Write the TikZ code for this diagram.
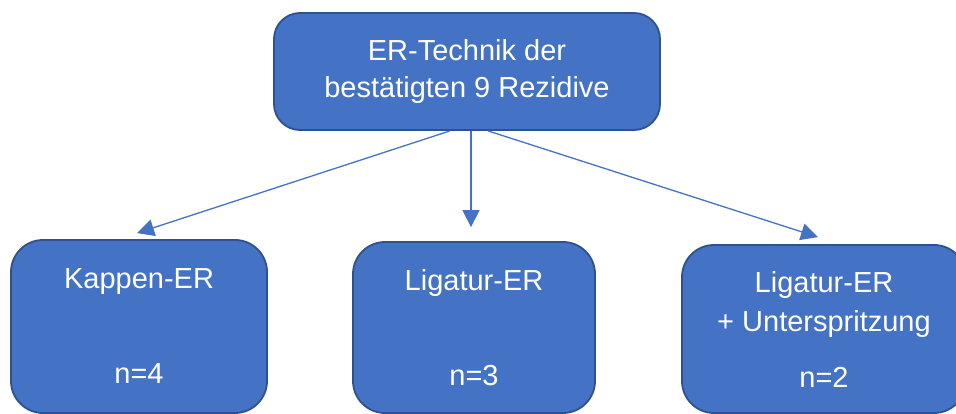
\documentclass[tikz,border=0pt]{standalone}
\usepackage{fontspec}
\setmainfont{Liberation Sans}
\usetikzlibrary{arrows.meta}
\definecolor{boxfill}{HTML}{4472C4}
\definecolor{boxline}{HTML}{2F528F}
\begin{document}
\begin{tikzpicture}[x=1pt,y=-1pt,
  box/.style={draw=boxline, fill=boxfill, line width=1.8pt, rounded corners=32pt,
    text=white, align=center, inner sep=0pt,
    font=\fontsize{29}{37}\selectfont},
  conn/.style={draw=boxfill, line width=1.3pt, -{Triangle[length=17pt,width=17pt]}}]
\useasboundingbox (0,0) rectangle (956,414);
\node[box, minimum width=386pt, minimum height=117pt, rounded corners=26pt] (top) at (467,71.5)
  {ER-Technik der\\bestätigten 9 Rezidive};
\node[box, minimum width=256pt, minimum height=173pt] (kap) at (139,326.5)
  {Kappen-ER\\[58pt]n=4};
\node[box, minimum width=242pt, minimum height=171pt] (mid) at (474,327.5)
  {Ligatur-ER\\[58pt]n=3};
\node[box, minimum width=284pt, minimum height=168pt] (rgt) at (824,329)
  {Ligatur-ER\\[2pt]+ Unterspritzung\\[19pt]n=2};
\draw[conn] ([xshift=-17pt]top.south) -- ([xshift=-2pt,yshift=6pt]kap.north);
\draw[conn] ([xshift=4pt]top.south) -- ([xshift=-3pt,yshift=14pt]mid.north);
\draw[conn] ([xshift=21pt]top.south) -- ([xshift=-6pt,yshift=7pt]rgt.north);
\end{tikzpicture}
\end{document}
